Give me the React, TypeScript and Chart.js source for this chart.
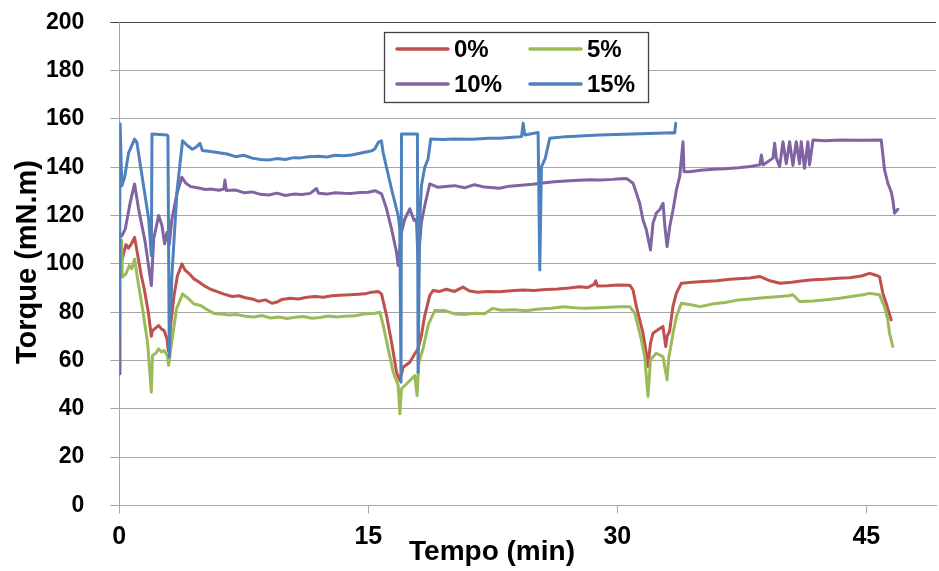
import React, { useEffect, useRef } from 'react';
import { Chart, registerables } from 'chart.js';

Chart.register(...registerables);

const FONT = '"Liberation Sans", Arial, Helvetica, sans-serif';

const xTitle = 'Tempo (min)';
const yTitle = 'Torque (mN.m)';
const xTickValues = [0, 15, 30, 45];
const xMax = 49.2;
const yMax = 200;
const yStep = 20;

const seriesLabels = ['0%', '5%', '10%', '15%'];
const seriesColors = ['#C0504D', '#9BBB59', '#8064A2', '#4F81BD'];

// [tempo (min), torque (mN.m)]
const torque0: [number, number][] = [
  [0.14, 101], [0.25, 104], [0.4, 108], [0.55, 106.5], [0.7, 108], [0.92, 111], [1.1, 104], [1.3, 96],
  [1.5, 89.7], [1.75, 80], [1.93, 70], [2.0, 72.4], [2.2, 73.5], [2.37, 74.5], [2.55, 73], [2.7, 72.4],
  [2.87, 69], [2.95, 64], [3.1, 75], [3.3, 87], [3.5, 95], [3.77, 100], [3.95, 97.5], [4.2, 96],
  [4.5, 93.8], [4.8, 92.5], [5.1, 91], [5.5, 89.5], [5.9, 88.5], [6.3, 87.5], [6.8, 86.5], [7.2, 86.8],
  [7.6, 86], [8.0, 85.5], [8.4, 84.5], [8.8, 85.1], [9.2, 83.7], [9.5, 84.2], [9.8, 85.3], [10.3, 85.8],
  [10.8, 85.5], [11.3, 86.2], [11.8, 86.5], [12.3, 86.2], [12.8, 86.8], [13.3, 87], [13.9, 87.2], [14.4, 87.4],
  [14.8, 87.6], [15.2, 88.3], [15.6, 88.6], [15.8, 87.5], [16.1, 78.6], [16.4, 67.6], [16.7, 55.2], [16.9, 51.7],
  [17.1, 57.2], [17.5, 59.3], [17.8, 62.8], [18.0, 64.8], [18.2, 70.3], [18.4, 78.6], [18.7, 86.9], [18.9, 89],
  [19.3, 88.6], [19.7, 89.5], [20.2, 88.6], [20.7, 90.4], [21.1, 88.8], [21.6, 88.3], [22.2, 88.6], [22.9, 88.5],
  [23.6, 88.9], [24.3, 89.2], [25.0, 89.0], [25.7, 89.4], [26.4, 89.6], [27.1, 90], [27.7, 90.5], [28.2, 90.2],
  [28.6, 91.5], [28.7, 93], [28.8, 90.8], [29.4, 91], [30.0, 91.3], [30.75, 91.2], [30.95, 89.2], [31.15, 82.3],
  [31.35, 76.8], [31.55, 71.3], [31.75, 63], [31.85, 57.5], [32.0, 67.2], [32.15, 71.3], [32.45, 72.7], [32.75, 74.1],
  [32.92, 65.8], [33.0, 70], [33.15, 72], [33.35, 82.3], [33.56, 87.9], [33.86, 92], [34.5, 92.4], [35.2, 92.7],
  [36.0, 93], [36.8, 93.6], [37.5, 94], [38.0, 94.2], [38.58, 94.8], [39.2, 93], [39.8, 92], [40.5, 92.4],
  [41.2, 93], [41.8, 93.4], [42.5, 93.6], [43.3, 94.1], [44.0, 94.3], [44.7, 95], [45.2, 96.1], [45.5, 95.5],
  [45.8, 94.7], [46.0, 87.8], [46.2, 83.7], [46.5, 76.8],
];

const torque5: [number, number][] = [
  [0.14, 109.7], [0.18, 94.5], [0.4, 95.9], [0.6, 99.3], [0.75, 98], [0.92, 102], [1.1, 93.8], [1.4, 81.4],
  [1.7, 67.6], [1.93, 46.9], [2.0, 62.1], [2.2, 63], [2.37, 64.8], [2.55, 63.5], [2.7, 64.1], [2.9, 62],
  [2.97, 58], [3.1, 64.8], [3.45, 81.4], [3.81, 87.6], [4.1, 86], [4.5, 83.4], [4.9, 82.8], [5.3, 81],
  [5.7, 79.5], [6.1, 79.3], [6.6, 78.8], [7.1, 79], [7.6, 78.3], [8.1, 78], [8.6, 78.6], [9.1, 77.6],
  [9.6, 78], [10.1, 77.4], [10.6, 77.9], [11.1, 78.2], [11.6, 77.5], [12.1, 77.8], [12.6, 78.4], [13.1, 78],
  [13.6, 78.3], [14.2, 78.5], [14.8, 79.3], [15.4, 79.6], [15.7, 80], [15.9, 74.5], [16.2, 64.8], [16.5, 55.2],
  [16.8, 49.7], [16.9, 37.9], [17.0, 48.3], [17.4, 51], [17.8, 53.8], [17.94, 45.5], [18.04, 59.3], [18.3, 64.8],
  [18.6, 74.5], [19.0, 80.7], [19.6, 80.7], [20.2, 79.3], [20.8, 79], [21.4, 79.6], [22.0, 79.4], [22.5, 81.6],
  [23.0, 80.8], [23.8, 81], [24.5, 80.6], [25.3, 81.3], [26.0, 81.6], [26.8, 82.3], [27.4, 81.8], [28.0, 81.6],
  [28.9, 81.8], [29.5, 82], [30.2, 82.3], [30.75, 82.3], [31.05, 79.6], [31.25, 74.1], [31.45, 68.6], [31.65, 61.6],
  [31.85, 45.1], [32.0, 60.3], [32.35, 63], [32.75, 61.6], [33.0, 52], [33.1, 61], [33.36, 71.3], [33.56, 78.2],
  [33.86, 83.7], [34.5, 83], [35.0, 82.3], [35.8, 83.5], [36.5, 84], [37.3, 85.1], [38.0, 85.5], [38.8, 86],
  [39.6, 86.4], [40.3, 86.8], [40.58, 87.2], [40.98, 84.4], [41.8, 84.6], [42.6, 85.2], [43.4, 85.8], [44.2, 86.6],
  [44.8, 87.2], [45.2, 87.8], [45.8, 87.2], [46.1, 82.3], [46.3, 76.8], [46.4, 71.3], [46.6, 65.8],
];

const torque10: [number, number][] = [
  [0, 54.5], [0.04, 112], [0.16, 111.7], [0.36, 114.5], [0.66, 125.5], [0.92, 133.1], [1.16, 122.8], [1.56, 109],
  [1.93, 91], [2.07, 110.3], [2.37, 120], [2.57, 115.9], [2.73, 108.3], [2.87, 113], [3.01, 108], [3.17, 118.6],
  [3.47, 129], [3.77, 135.9], [4.0, 133.5], [4.3, 132], [4.7, 131.5], [5.2, 130.8], [5.5, 131], [6.0, 130.5],
  [6.3, 131], [6.36, 134.7], [6.45, 130.4], [7.0, 130.6], [7.5, 129.5], [8.0, 129.8], [8.5, 128.8], [9.0, 128.5],
  [9.5, 129.3], [10.0, 128.3], [10.5, 128.9], [11.0, 128.7], [11.5, 129.2], [11.88, 131.2], [12.0, 129.3], [12.5, 128.9],
  [13.0, 129.5], [13.5, 129.3], [14.0, 129.2], [14.5, 129.6], [15.0, 129.7], [15.4, 130.3], [15.8, 129], [16.1, 122.8],
  [16.4, 114.5], [16.7, 104.8], [16.8, 99.3], [17.0, 113.1], [17.2, 118.6], [17.5, 122.8], [17.76, 118], [17.9, 118.6],
  [18.0, 100.7], [18.2, 117.2], [18.4, 124.1], [18.7, 133.1], [19.2, 131.7], [19.8, 132.2], [20.2, 132.4], [20.8, 131.5],
  [21.4, 132.8], [22.0, 131.8], [22.9, 131.3], [23.5, 132.2], [24.2, 132.6], [24.9, 133], [25.5, 133.5], [26.2, 134],
  [26.9, 134.3], [27.7, 134.6], [28.4, 134.8], [29.0, 134.7], [29.7, 135], [30.2, 135.3], [30.55, 135.4], [30.95, 133.4],
  [31.15, 129.3], [31.35, 125.1], [31.55, 118.2], [31.75, 114.1], [32.0, 105.8], [32.15, 116.8], [32.35, 121], [32.55, 122.4],
  [32.76, 125.1], [32.86, 116], [33.0, 107.2], [33.16, 115.5], [33.36, 122.4], [33.56, 130.6], [33.76, 136.1], [33.96, 150.6],
  [34.02, 138.2], [34.36, 138.2], [35.0, 138.8], [35.8, 139.2], [36.5, 139.4], [37.3, 139.8], [38.0, 140.3], [38.58, 141],
  [38.68, 145.1], [38.78, 141], [39.38, 143.8], [39.48, 150], [39.58, 143.8], [39.78, 140.3], [39.98, 150.6], [40.18, 141.5],
  [40.38, 150.6], [40.58, 140.8], [40.78, 150.6], [40.98, 141.5], [41.08, 150.6], [41.28, 139.6], [41.48, 150.6], [41.58, 141],
  [41.79, 151.3], [42.5, 151], [43.5, 151.3], [44.5, 151.2], [45.9, 151.3], [46.1, 138.9], [46.3, 133.4], [46.5, 129.9],
  [46.6, 126.5], [46.7, 121], [46.9, 122.6],
];

const torque15: [number, number][] = [
  [0, 70], [0.05, 158], [0.15, 132.4], [0.32, 135.9], [0.56, 146], [0.92, 151.7], [1.06, 150.3], [1.46, 132.4],
  [1.77, 118.6], [1.93, 103.4], [1.97, 153.8], [2.87, 153.4], [2.93, 152.8], [3.01, 61.4], [3.17, 95.2], [3.47, 129.7],
  [3.81, 151], [4.1, 149], [4.4, 147.5], [4.6, 148.2], [4.86, 149.9], [5.0, 147], [5.5, 146.5], [6.0, 146],
  [6.5, 145.5], [7.0, 144.4], [7.5, 145], [8.0, 143.8], [8.5, 143.2], [9.0, 143], [9.5, 143.6], [10.0, 143.2],
  [10.5, 144], [10.9, 143.9], [11.4, 144.4], [12.0, 144.6], [12.5, 144.3], [13.0, 145], [13.5, 144.8], [14.0, 145.1],
  [14.5, 145.8], [14.79, 146.2], [15.2, 146.8], [15.39, 147.6], [15.6, 150.3], [15.79, 151], [15.89, 146.2], [16.4, 131],
  [16.8, 120], [16.9, 114.5], [16.97, 51], [17.0, 153.8], [17.96, 153.8], [18.0, 55], [18.1, 118.6], [18.2, 132.4],
  [18.4, 140], [18.6, 143.4], [18.76, 151.7], [19.5, 151.5], [20.2, 151.7], [21.3, 151.6], [22.2, 152], [22.9, 152],
  [23.7, 152.4], [24.23, 152.7], [24.33, 158.2], [24.43, 153.4], [25.23, 154.4], [25.33, 97.5], [25.43, 140.2], [25.66, 143.7],
  [25.93, 152], [26.9, 152.7], [28.9, 153.4], [30.9, 153.8], [33.36, 154.3], [33.46, 154.2], [33.52, 158.2],
];

const seriesData = [torque0, torque5, torque10, torque15];
const drawOrder = [3, 2, 1, 0];

const boxLegend = {
  id: 'boxLegend',
  afterDraw(chart: any) {
    const ctx = chart.ctx as CanvasRenderingContext2D;
    ctx.save();
    ctx.fillStyle = '#ffffff';
    ctx.fillRect(384.5, 32.5, 264, 70);
    ctx.strokeStyle = '#404040';
    ctx.lineWidth = 1.3;
    ctx.strokeRect(384.5, 32.5, 264, 70);
    const cols = [397, 530];
    const rows = [49, 84];
    chart.data.datasets.forEach((ds: any, i: number) => {
      const cx = cols[i % 2];
      const cy = rows[Math.floor(i / 2)];
      ctx.strokeStyle = ds.borderColor;
      ctx.lineWidth = 3.5;
      ctx.lineCap = 'round';
      ctx.beginPath();
      ctx.moveTo(cx, cy);
      ctx.lineTo(cx + 51, cy);
      ctx.stroke();
      ctx.fillStyle = '#000000';
      ctx.font = `bold 24px ${FONT}`;
      ctx.textAlign = 'left';
      ctx.textBaseline = 'middle';
      ctx.fillText(ds.label, cx + 57, cy + 1);
    });
    ctx.restore();
  },
};

const axisTitles = {
  id: 'axisTitles',
  afterDraw(chart: any) {
    const ctx = chart.ctx as CanvasRenderingContext2D;
    ctx.save();
    ctx.fillStyle = '#000000';
    ctx.font = `bold 28px ${FONT}`;
    ctx.textAlign = 'center';
    ctx.textBaseline = 'middle';
    ctx.fillText(xTitle, 492, 552);
    ctx.font = `bold 29px ${FONT}`;
    ctx.translate(28, 262);
    ctx.rotate(-Math.PI / 2);
    ctx.fillText(yTitle, 0, 0);
    ctx.restore();
  },
};

export default function App() {
  const canvasRef = useRef<HTMLCanvasElement | null>(null);

  useEffect(() => {
    const canvas = canvasRef.current;
    if (!canvas) return;
    const chart = new Chart(canvas, {
      type: 'line',
      data: {
        datasets: seriesData.map((pts, i) => ({
          label: seriesLabels[i],
          data: pts.map(([x, y]) => ({ x, y })),
          borderColor: seriesColors[i],
          backgroundColor: seriesColors[i],
          borderWidth: 3,
          pointRadius: 0,
          tension: 0,
          borderJoinStyle: 'round',
          borderCapStyle: 'round',
          order: drawOrder[i],
        })),
      },
      options: {
        animation: false,
        responsive: false,
        devicePixelRatio: 1,
        layout: { padding: { top: 22.4, right: 3, left: 0, bottom: 0 } },
        plugins: {
          legend: { display: false },
          tooltip: { enabled: false },
        },
        scales: {
          x: {
            type: 'linear',
            min: 0,
            max: xMax,
            afterBuildTicks: (scale: any) => {
              scale.ticks = xTickValues.map((v) => ({ value: v }));
            },
            afterFit: (scale: any) => {
              scale.height = 65.6;
              scale.paddingLeft = 0;
              scale.paddingRight = 0;
            },
            grid: { drawOnChartArea: false, tickLength: 8, color: '#a6a6a6', lineWidth: 1 },
            border: { color: '#a6a6a6', width: 1 },
            ticks: {
              autoSkip: false,
              maxRotation: 0,
              padding: 9,
              color: '#000000',
              font: { family: FONT, size: 25, weight: 'bold' },
            },
          },
          y: {
            min: 0,
            max: yMax,
            afterFit: (scale: any) => {
              scale.width = 119.3;
              scale.paddingTop = 0;
              scale.paddingBottom = 0;
            },
            grid: {
              tickLength: 9,
              lineWidth: 1,
              color: (ctx: any) => (ctx.tick && ctx.tick.value === yMax ? '#404040' : '#a6a6a6'),
            },
            border: { color: '#a6a6a6', width: 1 },
            ticks: {
              stepSize: yStep,
              padding: 26,
              color: '#000000',
              font: { family: FONT, size: 23, weight: 'bold' },
            },
          },
        },
      },
      plugins: [boxLegend, axisTitles],
    } as any);
    return () => chart.destroy();
  }, []);

  return (
    <div style={{ position: 'absolute', left: 0, top: 0, width: 939, height: 571, background: '#ffffff' }}>
      <canvas ref={canvasRef} width={939} height={571} style={{ display: 'block' }} />
    </div>
  );
}
